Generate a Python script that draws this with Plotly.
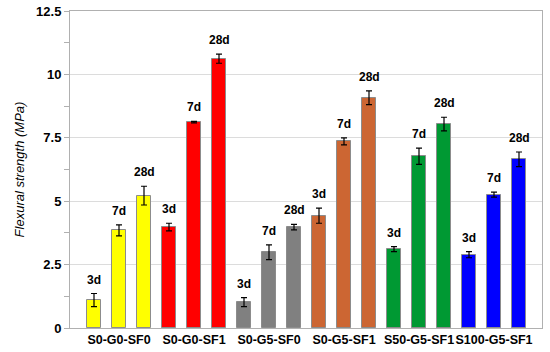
import plotly.graph_objects as go

groups = ["S0-G0-SF0", "S0-G0-SF1", "S0-G5-SF0", "S0-G5-SF1", "S50-G5-SF1", "S100-G5-SF1"]
ages = ["3d", "7d", "28d"]
means = [
    [1.10, 3.85, 5.22],
    [3.98, 8.12, 10.62],
    [1.02, 2.99, 3.98],
    [4.43, 7.36, 9.08],
    [3.11, 6.77, 8.04],
    [2.89, 5.26, 6.65],
]
errors = [
    [0.26, 0.22, 0.37],
    [0.15, 0.03, 0.18],
    [0.18, 0.29, 0.11],
    [0.30, 0.14, 0.27],
    [0.10, 0.32, 0.27],
    [0.12, 0.10, 0.29],
]
colors = ["#FFFF00", "#FF0000", "#808080", "#CC6633", "#009933", "#0000FF"]
y_ticks = [0, 2.5, 5, 7.5, 10, 12.5]
y_ticktext = ["0", "2.5", "5", "7.5", "10", "12.5"]

FONT = "Liberation Sans, Arial, sans-serif"

xs, ys, es, cs, labels = [], [], [], [], []
for gi, g in enumerate(groups):
    for ai, a in enumerate(ages):
        xs.append(gi * len(ages) + ai)
        ys.append(means[gi][ai])
        es.append(errors[gi][ai])
        cs.append(colors[gi])
        labels.append(a)

fig = go.Figure()
fig.add_trace(go.Bar(
    x=xs, y=ys, width=0.56,
    marker=dict(color=cs, line=dict(color="#8c8c8c", width=1)),
    error_y=dict(type="data", array=es, visible=True, color="black", thickness=1.2, width=3),
    showlegend=False,
))

for x, y, e, t in zip(xs, ys, es, labels):
    fig.add_annotation(x=x, y=y + e, text=t, showarrow=False, yanchor="bottom", yshift=5,
                       font=dict(family=FONT, size=12, color="black", weight="bold"))

fig.update_layout(
    width=550, height=352,
    margin=dict(l=70, r=8, t=11, b=24),
    plot_bgcolor="white", paper_bgcolor="white",
    bargap=0,
    xaxis=dict(
        range=[-0.96, 17.92],
        tickmode="array",
        tickvals=[gi * len(ages) + 1 for gi in range(len(groups))],
        ticktext=groups, tickangle=0, automargin=False,
        tickfont=dict(family=FONT, size=12.5, color="black", weight="bold"),
        showline=True, linecolor="#b0b0b0", linewidth=1, mirror=True,
        showgrid=False, ticks="", zeroline=False,
    ),
    yaxis=dict(
        range=[0, 12.5], automargin=False,
        tickmode="array", tickvals=y_ticks, ticktext=y_ticktext,
        tickfont=dict(family=FONT, size=13, color="black", weight="bold"),
        ticks="outside", ticklen=5, tickcolor="#b0b0b0",
        minor=dict(ticks="outside", ticklen=5, dtick=1.25, tick0=0, tickcolor="#b0b0b0", showgrid=False),
        showline=True, linecolor="#b0b0b0", linewidth=1, mirror=True,
        showgrid=True, gridcolor="#dcdcdc", gridwidth=1, zeroline=False,
        title=dict(text="Flexural strength (MPa)", standoff=8,
                   font=dict(family=FONT, size=13, color="black", style="italic")),
    ),
)

fig.write_html("out.html", config={"displayModeBar": False},
               post_script="document.body.style.margin='0';document.body.style.overflow='hidden';")
